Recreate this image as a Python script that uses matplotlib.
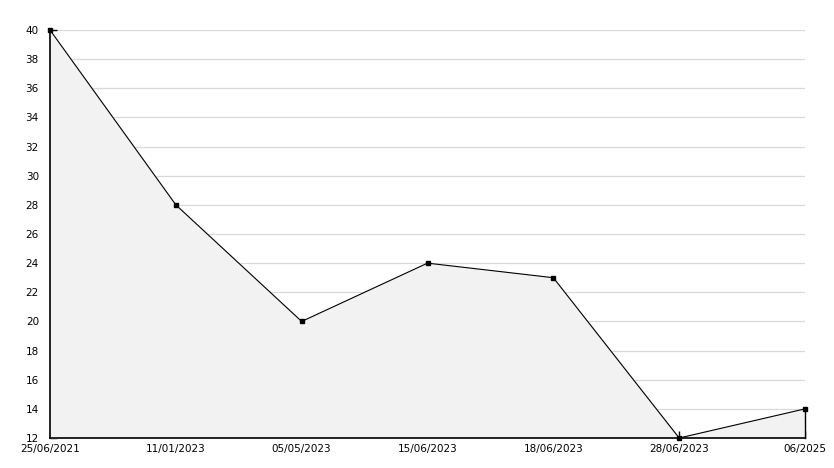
import matplotlib
matplotlib.use("Agg")
import matplotlib.pyplot as plt
from matplotlib.ticker import MultipleLocator

# === DONNEES ===
dates = ["25/06/2021", "11/01/2023", "05/05/2023", "15/06/2023",
         "18/06/2023", "28/06/2023", "06/2025"]
values = [40, 28, 20, 24, 23, 12, 14]
y_min, y_max = 12, 40

# === GRAPHIQUE ===
W, H = 834, 468
fig = plt.figure(figsize=(W / 100, H / 100), dpi=100)
ax = fig.add_axes([50 / W, (H - 438) / H, (805 - 50) / W, (438 - 30) / H])

x = list(range(len(dates)))
ax.fill_between(x, values, y_min, color="#f2f2f2", zorder=1)
ax.plot([x[-1], x[-1]], [y_min, values[-1]], color="black", lw=1.0, zorder=3, clip_on=False)
ax.plot(x, values, color="black", lw=0.8, marker="s", markersize=3.5, zorder=4, clip_on=False)

ax.set_xlim(0, len(dates) - 1)
ax.set_ylim(y_min, y_max)
ax.yaxis.set_major_locator(MultipleLocator(2))
ax.yaxis.set_minor_locator(MultipleLocator(1))
ax.set_xticks(x)
ax.set_xticklabels(dates)

ax.grid(axis="y", color="#d9d9d9", lw=0.9, zorder=0)
ax.set_axisbelow(True)
for s in ["top", "right"]:
    ax.spines[s].set_visible(False)
ax.spines["left"].set_linewidth(1.2)
ax.spines["bottom"].set_linewidth(1.2)

ax.tick_params(axis="y", which="major", direction="in", length=5, width=1, labelsize=7.5, pad=8)
ax.tick_params(axis="y", which="minor", direction="in", length=3, width=1)
ax.tick_params(axis="x", direction="in", length=5, width=1, labelsize=7.5, pad=4)

plt.savefig("out.png", dpi=100)
